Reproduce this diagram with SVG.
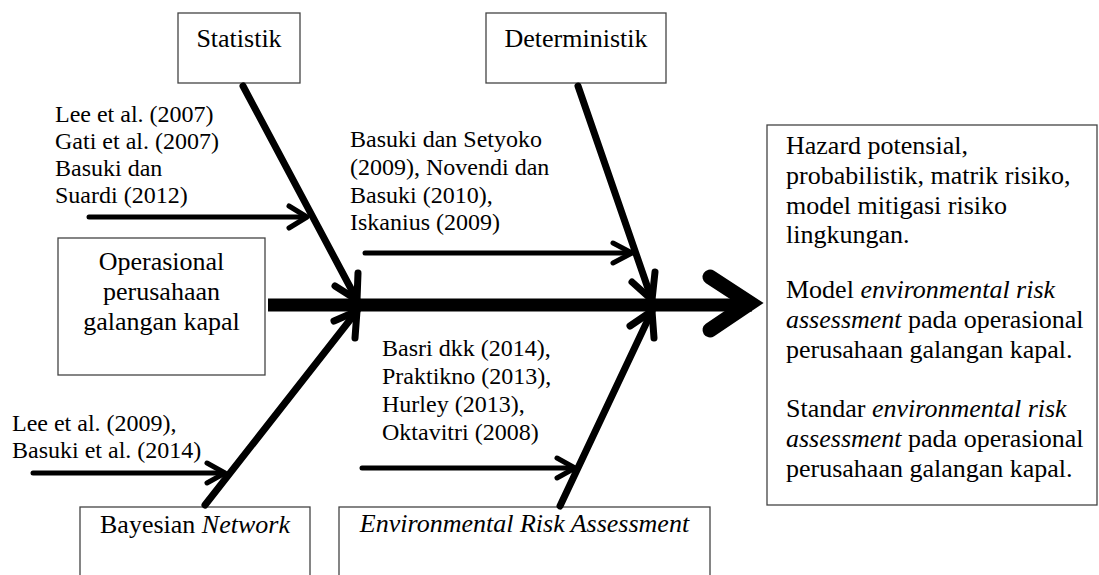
<svg xmlns="http://www.w3.org/2000/svg" width="1099" height="575" viewBox="0 0 1099 575">
<style>
.box{fill:#fff;stroke:#444;stroke-width:1.3}
.lbl{font-family:"Liberation Serif","Times New Roman","DejaVu Serif",serif;font-size:26px;fill:#000}
.cit{font-family:"Liberation Serif","Times New Roman","DejaVu Serif",serif;font-size:24px;fill:#000}
.mid{text-anchor:middle}
.it{font-style:italic}
.bone{stroke:#000;stroke-width:7;fill:none;stroke-linecap:round;stroke-linejoin:round}
.sub{stroke:#000;stroke-width:5;fill:none;stroke-linecap:round;stroke-linejoin:round}
</style>
<defs>
<clipPath id="clipDet"><rect x="340" y="120" width="230" height="116"/></clipPath>
</defs>
<rect width="1099" height="575" fill="#fff"/>

<g id="statistik" font-family="Liberation Serif, serif">
<rect class="box" x="178" y="13" width="122" height="70"/>
<text class="lbl mid" x="239" y="47">Statistik</text>
</g>
<g id="deterministik" font-family="Liberation Serif, serif">
<rect class="box" x="486" y="13" width="180" height="70"/>
<text class="lbl mid" x="576" y="47">Deterministik</text>
</g>
<g id="operasional" font-family="Liberation Serif, serif">
<rect class="box" x="58" y="238" width="207" height="137"/>
<text class="lbl mid" x="161.5" y="270">Operasional</text>
<text class="lbl mid" x="161.5" y="300">perusahaan</text>
<text class="lbl mid" x="161.5" y="330">galangan kapal</text>
</g>
<g id="bayesian" font-family="Liberation Serif, serif">
<rect class="box" x="80" y="507" width="230" height="90"/>
<text class="lbl mid" x="195" y="533">Bayesian <tspan class="it">Network</tspan></text>
</g>
<g id="era" font-family="Liberation Serif, serif">
<rect class="box" x="339" y="507" width="371" height="90"/>
<text class="lbl mid it" x="524.5" y="532">Environmental Risk Assessment</text>
</g>
<g id="hasil" font-family="Liberation Serif, serif">
<rect class="box" x="767" y="125" width="330" height="380"/>
<text class="lbl" x="786" y="154">Hazard potensial,</text>
<text class="lbl" x="786" y="184">probabilistik, matrik risiko,</text>
<text class="lbl" x="786" y="214">model mitigasi risiko</text>
<text class="lbl" x="786" y="243">lingkungan.</text>
<text class="lbl" x="786" y="298">Model <tspan class="it">environmental risk</tspan></text>
<text class="lbl" x="786" y="328"><tspan class="it">assessment</tspan> pada operasional</text>
<text class="lbl" x="786" y="358">perusahaan galangan kapal.</text>
<text class="lbl" x="786" y="417">Standar <tspan class="it">environmental risk</tspan></text>
<text class="lbl" x="786" y="447"><tspan class="it">assessment</tspan> pada operasional</text>
<text class="lbl" x="786" y="477">perusahaan galangan kapal.</text>
</g>

<g id="cit-statistik" font-family="Liberation Serif, serif">
<text class="cit" x="55" y="122">Lee et al. (2007)</text>
<text class="cit" x="55" y="149">Gati et al. (2007)</text>
<text class="cit" x="55" y="176">Basuki dan</text>
<text class="cit" x="55" y="203">Suardi (2012)</text>
</g>
<g id="cit-deterministik" clip-path="url(#clipDet)" font-family="Liberation Serif, serif">
<text class="cit" x="350" y="147">Basuki dan Setyoko</text>
<text class="cit" x="350" y="175">(2009), Novendi dan</text>
<text class="cit" x="350" y="203">Basuki (2010),</text>
<text class="cit" x="350" y="230">Iskanius (2009)</text>
</g>
<g id="cit-bayesian" font-family="Liberation Serif, serif">
<text class="cit" x="12" y="431">Lee et al. (2009),</text>
<text class="cit" x="12" y="458">Basuki et al. (2014)</text>
</g>
<g id="cit-era" font-family="Liberation Serif, serif">
<text class="cit" x="382" y="356">Basri dkk (2014),</text>
<text class="cit" x="382" y="384">Praktikno (2013),</text>
<text class="cit" x="382" y="412">Hurley (2013),</text>
<text class="cit" x="382" y="440">Oktavitri (2008)</text>
</g>

<g id="connectors">
<line x1="268" y1="305" x2="752" y2="305" stroke="#000" stroke-width="13"/>
<polyline points="710,277 750,303 710,330" stroke="#000" stroke-width="15" fill="none" stroke-linecap="round" stroke-linejoin="miter"/>
<line class="bone" x1="243" y1="86" x2="357" y2="300"/>
<polyline class="bone" points="335,286 357,300 358,273"/>
<line class="bone" x1="578" y1="86" x2="652" y2="300"/>
<polyline class="bone" points="632,282 652,300 655,272"/>
<line class="bone" x1="205" y1="505" x2="357" y2="311"/>
<polyline class="bone" points="334,321 357,311 355,338"/>
<line class="bone" x1="560" y1="506" x2="652" y2="311"/>
<polyline class="bone" points="630,326 652,311 654,338"/>
<line class="sub" x1="89" y1="217" x2="306" y2="217"/>
<polyline class="sub" points="289,206 307,217 289,228"/>
<line class="sub" x1="365" y1="253" x2="631" y2="253"/>
<polyline class="sub" points="613,243 632,253 613,263"/>
<line class="sub" x1="33" y1="473" x2="224" y2="473"/>
<polyline class="sub" points="207,463 225,473 207,483"/>
<line class="sub" x1="362" y1="468" x2="574" y2="468"/>
<polyline class="sub" points="557,458 575,468 557,478"/>
</g>
</svg>
